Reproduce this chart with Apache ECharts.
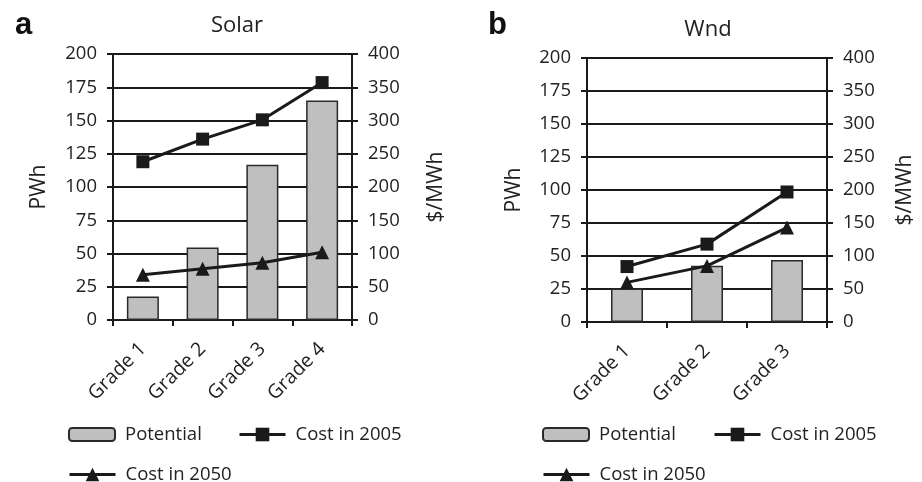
<!DOCTYPE html>
<html><head><meta charset="utf-8">
<script src="https://cdn.jsdelivr.net/npm/echarts@6/dist/echarts.min.js"></script>
<style>html,body{margin:0;padding:0;background:#fff}#c{width:922px;height:482px}</style>
</head><body><div id="c"></div>
<script>
const categoriesSolar = ['Grade 1','Grade 2','Grade 3','Grade 4'];
const potentialSolar = [17.7, 54.5, 116.7, 165];
const cost2005Solar = [238, 272, 301, 357];
const cost2050Solar = [68, 77, 86, 102];
const categoriesWind = ['Grade 1','Grade 2','Grade 3'];
const potentialWind = [25.3, 42.6, 47];
const cost2005Wind = [84, 118, 197];
const cost2050Wind = [60, 85, 143];
const leftTicks = {min:0, max:200, interval:25};
const rightTicks = {min:0, max:400, interval:50};

const FONT = 'Open Sans';
const INK = '#1a1a1a';
const TXT = '#222';
const axisFont = {fontFamily: FONT, fontSize: 18.5, color: TXT};

function yAxes(gi, leftGap, rightGap){
  return [
    {type:'value', gridIndex:gi, position:'left', min:leftTicks.min, max:leftTicks.max, interval:leftTicks.interval,
     name:'PWh', nameLocation:'middle', nameGap:leftGap, nameRotate:90, nameTextStyle:{fontFamily:FONT, fontSize:21, color:TXT},
     axisLine:{show:true, lineStyle:{color:INK, width:2}},
     axisTick:{show:true, length:6, lineStyle:{color:INK, width:2}},
     axisLabel:Object.assign({margin:16}, axisFont),
     splitLine:{show:true, lineStyle:{color:INK, width:2}}},
    {type:'value', gridIndex:gi, position:'right', min:rightTicks.min, max:rightTicks.max, interval:rightTicks.interval,
     name:'$/MWh', nameLocation:'middle', nameGap:rightGap, nameRotate:90, nameTextStyle:{fontFamily:FONT, fontSize:21, color:TXT},
     axisLine:{show:true, lineStyle:{color:INK, width:2}},
     axisTick:{show:true, length:6, lineStyle:{color:INK, width:2}},
     axisLabel:Object.assign({margin:16}, axisFont),
     splitLine:{show:false}}
  ];
}
function xAxis(gi, cats){
  return {type:'category', gridIndex:gi, data:cats, boundaryGap:true,
    axisLine:{show:true, onZero:false, lineStyle:{color:INK, width:2}},
    axisTick:{show:true, length:6, alignWithLabel:false, lineStyle:{color:INK, width:2}},
    axisLabel:{rotate:45, margin:26, interval:0, fontFamily:FONT, fontSize:19.5, color:TXT}};
}
function series(gi, pot, c05, c50, barW){
  return [
    {name:'Potential', type:'bar', xAxisIndex:gi, yAxisIndex:gi*2, data:pot, barWidth:barW,
     itemStyle:{color:'#bfbfbf', borderColor:'#2a2a2a', borderWidth:1.5}, z:2},
    {name:'Cost in 2005', type:'line', xAxisIndex:gi, yAxisIndex:gi*2+1, data:c05,
     symbol:'rect', symbolSize:13, lineStyle:{color:INK, width:3}, itemStyle:{color:INK}, z:3},
    {name:'Cost in 2050', type:'line', xAxisIndex:gi, yAxisIndex:gi*2+1, data:c50,
     symbol:'triangle', symbolSize:14, lineStyle:{color:INK, width:3}, itemStyle:{color:INK}, z:3}
  ];
}
function legend(name, left, top, h){
  return {data:[name], left:left, top:top, orient:'horizontal', itemWidth:46, itemHeight:h, itemGap:0,
    lineStyle:{width:3}, itemStyle:{},
    textStyle:{fontFamily:FONT, fontSize:18.5, color:TXT, padding:[0,0,0,5]}, padding:0, selectedMode:false};
}
const chart = echarts.init(document.getElementById('c'), null, {renderer:'canvas'});
chart.setOption({
  animation:false,
  title:[
    {text:'Solar', left:232, top:10, textAlign:'center', textStyle:{fontFamily:FONT, fontSize:22, fontWeight:'normal', color:TXT}},
    {text:'Wnd', left:703, top:14, textAlign:'center', textStyle:{fontFamily:FONT, fontSize:22, fontWeight:'normal', color:TXT}},
    {text:'a', left:10, top:5, textStyle:{fontFamily:'Liberation Sans', fontSize:31, fontWeight:'bold', color:'#111'}},
    {text:'b', left:483, top:5, textStyle:{fontFamily:'Liberation Sans', fontSize:31, fontWeight:'bold', color:'#111'}}
  ],
  grid:[
    {left:113, top:54, width:239, height:266},
    {left:587, top:58, width:240, height:264}
  ],
  xAxis:[xAxis(0, categoriesSolar), xAxis(1, categoriesWind)],
  yAxis:[...yAxes(0, 63, 74), ...yAxes(1, 62, 68)],
  legend:[
    legend('Potential', 68, 425, 13), legend('Cost in 2005', 238, 425, 17), legend('Cost in 2050', 68, 465, 17),
    legend('Potential', 542, 425, 13), legend('Cost in 2005', 713, 425, 17), legend('Cost in 2050', 542, 465, 17)
  ],
  series:[...series(0, potentialSolar, cost2005Solar, cost2050Solar, 32), ...series(1, potentialWind, cost2005Wind, cost2050Wind, 32)]
});
</script></body></html>
